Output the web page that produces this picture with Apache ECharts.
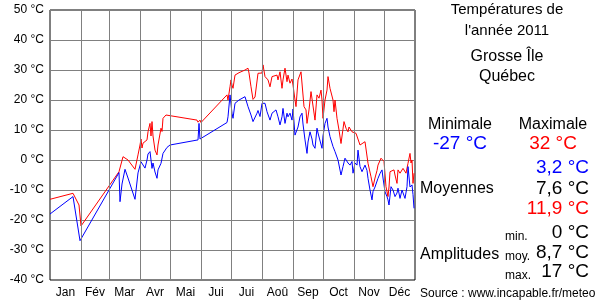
<!DOCTYPE html>
<html>
<head>
<meta charset="utf-8">
<style>
  html, body { margin: 0; padding: 0; background: #fff; }
  #chart { width: 600px; height: 300px; }
</style>
<script src="https://cdn.jsdelivr.net/npm/echarts@6/dist/echarts.min.js"></script>
</head>
<body>
<div id="chart"></div>
<script>
// jours de l'année (0 = 1er janvier) et températures
var monthNames = ['Jan', 'Fév', 'Mar', 'Avr', 'Mai', 'Jui', 'Jui', 'Aoû', 'Sep', 'Oct', 'Nov', 'Déc']
var monthStarts = [0, 31, 59, 90, 120, 151, 181, 212, 243, 273, 304, 334, 365]
var yTicks = [-40, -30, -20, -10, 0, 10, 20, 30, 40, 50]

var maxima = [
  [0, -13.1], [23, -11.1], [29, -15], [31, -22], [69, -3.9], [73, 1.1], [78, 0], [85, -3.1], [88, 1.7],
  [90, 5], [91, 7], [92, 4], [93, 5.6], [97, 6.7], [98, 9.4], [100, 12.2], [101, 8], [102, 12.8],
  [103, 8], [105, 3.3], [107, 1.7], [108, 5], [111, 10.6], [112, 9.5], [113, 13.9], [116, 15],
  [147, 13.3], [148, 12.6], [150, 13.3], [151, 12.5], [177, 21.7], [178, 20], [180, 24.4], [181, 26.7],
  [182, 25], [183, 23.9], [185, 28.3], [189, 29.1], [195, 30], [198, 30.6], [199, 29], [201, 24.4],
  [203, 20.2], [205, 21], [208, 28.9], [212, 29], [213, 31.7], [215, 27.8], [218, 26.7], [220, 24.4],
  [222, 27.8], [224, 27.3], [227, 28.3], [228, 26.7], [230, 29.4], [232, 23.9], [233, 26.7], [235, 30.6],
  [237, 26.1], [238, 28.3], [240, 25.6], [242, 27], [243, 25], [245, 20], [246, 17.8], [248, 26.7],
  [251, 29.4], [253, 29.4], [254, 17.8], [256, 16.7], [257, 12.2], [259, 16.7], [261, 22.8], [263, 22.8],
  [265, 13.3], [267, 21.7], [269, 20.6], [271, 23.3], [272, 20], [273, 13.9], [275, 20], [277, 23.3],
  [278, 27.8], [280, 23.9], [283, 20], [284, 16.1], [285, 20], [287, 13.9], [289, 10], [291, 5.5],
  [294, 12.8], [296, 10.6], [298, 9.4], [299, 11], [302, 9.4], [303, 10], [306, 8.9], [308, 9.5],
  [310, 5], [312, 5], [315, 6.1], [317, 6.7], [318, -1.1], [321, -5.6], [323, -8.9], [325, -6],
  [327, -3.5], [328, -1.7], [331, 0.6], [333, 0.6], [334, -0.5], [336, -8.9], [338, -12.2], [339, -9],
  [340, -3.9], [342, -3.9], [344, -3.3], [345, -5], [347, -7.8], [348, -3.3], [350, -4.4], [353, -2.8],
  [356, -4.4], [358, -1.1], [360, 2.2], [361, -1], [362, 0], [363, -7.8], [364, -4.4]
]

var minima = [
  [0, -18], [23, -12.2], [30, -26.9], [69, -4.2], [70, -13.9], [72, -8], [75, -3.1], [78, -6],
  [85, -13.1], [88, -4.3], [91, -0.6], [93, 0], [95, -2.7], [97, 0], [98, 2], [100, 2.8], [102, -2.8],
  [103, -1], [105, -4], [107, -6.1], [108, -3.3], [111, -1.1], [113, 2.2], [115, 2.8], [117, 4.2],
  [120, 5], [148, 6.7], [149, 12.2], [150, 7], [152, 6.9], [177, 12.5], [178, 14.4], [180, 21.7],
  [182, 15.6], [183, 13.9], [185, 18.9], [189, 20], [195, 21.1], [197, 21.7], [198, 17.8], [201, 15],
  [203, 12.8], [207, 15.6], [208, 16.5], [210, 14.5], [212, 18.9], [215, 18.9], [217, 16.1], [218, 15.6],
  [220, 13.3], [222, 15.6], [224, 15], [226, 16.7], [228, 14.4], [230, 11.7], [232, 14.4], [233, 17.2],
  [235, 12.2], [237, 15.6], [238, 14.4], [240, 15.6], [242, 13.3], [243, 17], [245, 8.3], [246, 7.8],
  [248, 11], [250, 14.4], [252, 15.6], [253, 12], [255, 6.7], [257, 2.2], [258, 6], [260, 9.4],
  [262, 7], [263, 5], [265, 3.9], [267, 10.6], [268, 9], [270, 8.5], [272, 3.9], [273, 8], [275, 12.2],
  [277, 13.9], [278, 11], [280, 7.8], [283, 4.5], [285, 2.8], [287, 3.3], [288, 0], [291, -5],
  [293, -2.2], [295, 0.6], [297, 0.6], [298, -1], [300, -1.7], [302, -0.5], [303, -4.4], [305, -1],
  [307, -1.7], [308, 3.3], [310, -2.2], [312, -3.9], [313, -4.5], [315, -1.7], [317, -3.5], [318, -6.1],
  [320, -10], [322, -13.3], [323, -10.5], [325, -9], [327, -9.4], [328, -6.1], [330, -4.5], [332, -3.3],
  [333, -6], [335, -10.6], [337, -12.2], [338, -13.3], [339, -15], [341, -8.9], [343, -10], [345, -12.2],
  [347, -11], [348, -9.4], [350, -12.8], [352, -10], [353, -10.5], [355, -12.8], [357, -8.9], [358, -2.2],
  [360, -9], [362, -8.3], [363, -11.5], [364, -16.1]
]

var title = ['Températures de', "l'année 2011"]
var station = ['Grosse Île', 'Québec']
var extremes = { min: '-27 °C', max: '32 °C' }
var averages = ['3,2 °C', '7,6 °C', '11,9 °C']
var amplitudes = [['min.', '0 °C'], ['moy.', '8,7 °C'], ['max.', '17 °C']]
var source = 'Source : www.incapable.fr/meteo'

var FONT = 'Liberation Sans, Arial, sans-serif'

var chart = echarts.init(document.getElementById('chart'))

// milieu de chaque mois pour les étiquettes
var monthMids = []
for (var i = 0; i < 12; i++) {
  monthMids.push((monthStarts[i] + monthStarts[i + 1]) / 2)
}

function txt(x, y, text, size, color, align) {
  return {
    type: 'text',
    x: x,
    y: y,
    style: {
      text: text,
      fill: color || '#000',
      font: size + 'px ' + FONT,
      align: align || 'center',
      verticalAlign: 'middle'
    }
  }
}

var graphics = [
  txt(507, 10, title[0], 15),
  txt(507, 31, title[1], 15),
  txt(507, 57, station[0], 16),
  txt(507, 77, station[1], 16),
  txt(460, 125, 'Minimale', 16),
  txt(553, 125, 'Maximale', 16),
  txt(460, 144, extremes.min, 19, '#0000ff'),
  txt(553, 144, extremes.max, 19, '#ff0000'),
  txt(589, 168, averages[0], 19, '#0000ff', 'right'),
  txt(589, 189, averages[1], 19, '#000', 'right'),
  txt(589, 209, averages[2], 19, '#ff0000', 'right'),
  txt(420, 189, 'Moyennes', 16, '#000', 'left'),
  txt(420, 255, 'Amplitudes', 16, '#000', 'left'),
  txt(420, 294, source, 12, '#000', 'left')
]
var ampY = [[237, 233], [257, 253], [276, 272]]
amplitudes.forEach(function(a, k) {
  graphics.push(txt(505, ampY[k][0], a[0], 12, '#000', 'left'))
  graphics.push(txt(589, ampY[k][1], a[1], 19, '#000', 'right'))
})

var option = {
  animation: false,
  backgroundColor: '#fff',
  textStyle: { fontFamily: FONT },
  grid: {
    left: 50,
    right: 185,
    top: 10,
    bottom: 20,
    show: true,
    borderColor: '#000',
    borderWidth: 1,
    containLabel: false
  },
  xAxis: {
    type: 'value',
    min: 0,
    max: 365,
    axisLine: { show: false },
    axisTick: { show: false },
    splitLine: { show: false },
    axisLabel: {
      customValues: monthMids,
      color: '#000',
      fontSize: 12,
      margin: 7,
      formatter: function(v) {
        var idx = monthMids.indexOf(v)
        return idx >= 0 ? monthNames[idx] : ''
      }
    }
  },
  yAxis: {
    type: 'value',
    min: yTicks[0],
    max: yTicks[yTicks.length - 1],
    interval: 10,
    axisLine: { show: false },
    axisTick: { show: false },
    splitLine: { show: true, lineStyle: { color: '#808080', width: 1 } },
    axisLabel: {
      color: '#000',
      fontSize: 12,
      margin: 6,
      formatter: '{value} °C'
    }
  },
  series: [
    {
      name: 'grille',
      type: 'line',
      data: [],
      silent: true,
      markLine: {
        silent: true,
        symbol: 'none',
        label: { show: false },
        lineStyle: { color: '#808080', width: 1, type: 'solid' },
        data: monthStarts.slice(1, 12).map(function(d) { return { xAxis: d } })
      }
    },
    {
      name: 'Maximales',
      type: 'line',
      data: maxima,
      showSymbol: false,
      lineStyle: { color: '#ff0000', width: 1 },
      itemStyle: { color: '#ff0000' },
      z: 3
    },
    {
      name: 'Minimales',
      type: 'line',
      data: minima,
      showSymbol: false,
      lineStyle: { color: '#0000ff', width: 1 },
      itemStyle: { color: '#0000ff' },
      z: 4
    }
  ],
  graphic: graphics
}

chart.setOption(option)
</script>
</body>
</html>
